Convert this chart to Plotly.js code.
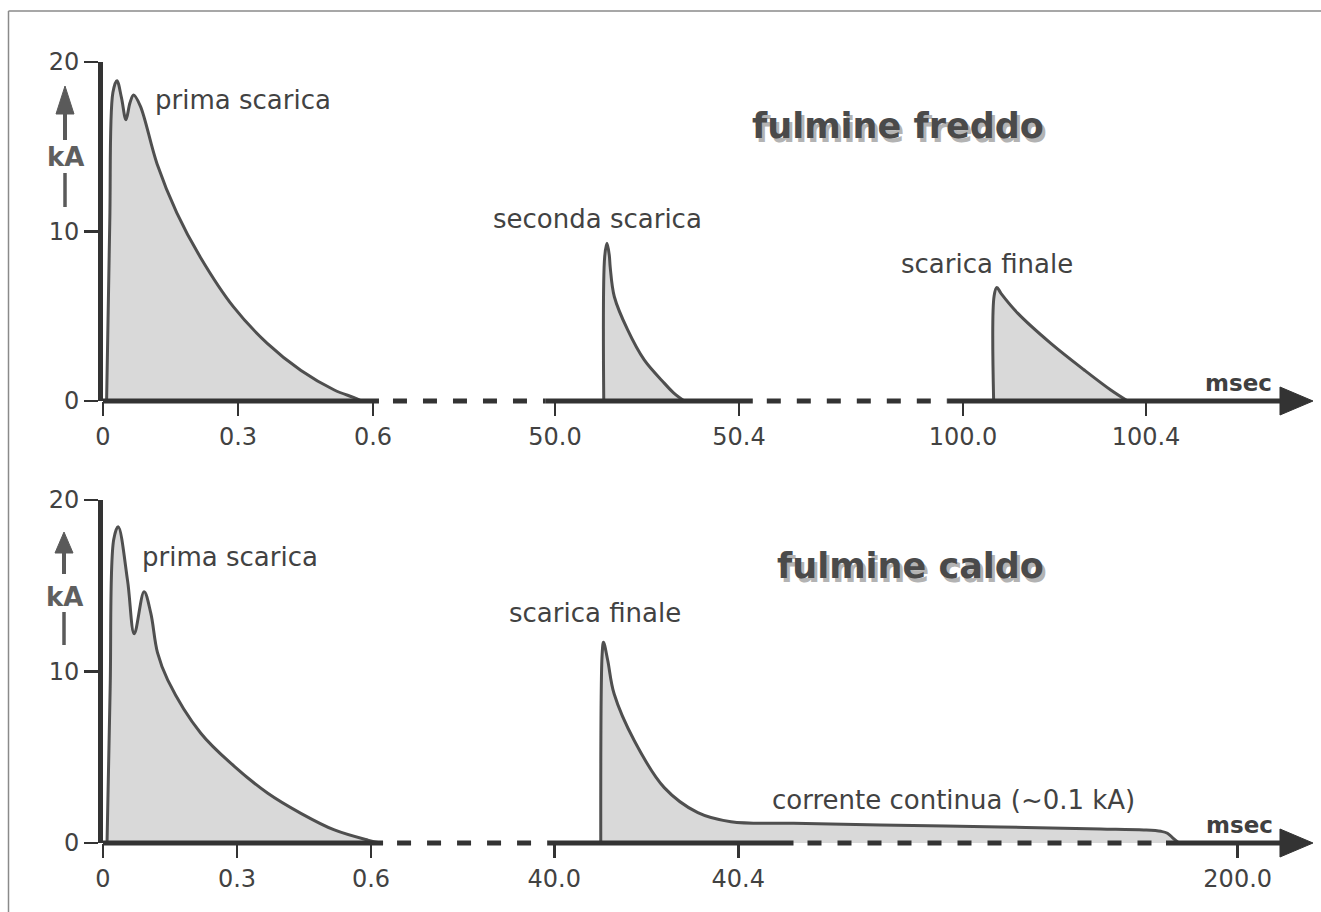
<!DOCTYPE html>
<html><head><meta charset="utf-8">
<script src="https://cdn.plot.ly/plotly-3.0.1.min.js"></script>
<style>html,body{margin:0;padding:0;background:#fff}#chart{width:1321px;height:912px}</style>
</head><body><div id="chart"></div>
<script>
// ---------------- DATA (time in ms, current in kA) ----------------
// fulmine freddo
const freddoPrimaT = [0.008, 0.015, 0.022, 0.031, 0.041, 0.051, 0.060, 0.068, 0.083, 0.120, 0.164, 0.216, 0.290, 0.365, 0.440, 0.514, 0.558, 0.575];
const freddoPrimaI = [0, 10.5, 18.2, 18.9, 17.9, 16.6, 17.6, 18.05, 17.4, 14.0, 11.1, 8.5, 5.55, 3.4, 1.8, 0.65, 0.2, 0];
const freddoSecondaT = [50.106, 50.108, 50.113, 50.118, 50.120, 50.129, 50.158, 50.194, 50.238, 50.259, 50.281];
const freddoSecondaI = [0, 8.5, 9.3, 8.6, 7.9, 6.15, 4.19, 2.42, 1.04, 0.45, 0];
const freddoFinaleT = [100.067, 100.068, 100.074, 100.083, 100.120, 100.192, 100.265, 100.323, 100.360];
const freddoFinaleI = [0, 6.2, 6.7, 6.35, 5.17, 3.4, 1.83, 0.65, 0];
// fulmine caldo
const caldoPrimaT = [0.009, 0.016, 0.024, 0.034, 0.055, 0.070, 0.092, 0.107, 0.122, 0.145, 0.219, 0.294, 0.369, 0.443, 0.518, 0.593, 0.622];
const caldoPrimaI = [0, 9.0, 17.7, 18.44, 15.3, 12.2, 14.65, 13.4, 11.1, 9.5, 6.4, 4.47, 2.9, 1.73, 0.76, 0.17, 0];
const caldoFinaleT = [40.101, 40.104, 40.107, 40.116, 40.130, 40.174, 40.239, 40.312, 40.384, 40.52, 77.7, 129.1, 171.9, 190.4, 197.7, 199.853, 199.864, 199.877];
const caldoFinaleI = [0, 11.0, 11.7, 10.67, 8.7, 5.96, 3.23, 1.77, 1.24, 1.15, 1.05, 0.93, 0.82, 0.76, 0.68, 0.57, 0.3, 0];

// tick labels
const freddoTicks = [0, 0.3, 0.6, 50.0, 50.4, 100.0, 100.4];
const freddoTickLabels = ['0', '0.3', '0.6', '50.0', '50.4', '100.0', '100.4'];
const caldoTicks = [0, 0.3, 0.6, 40.0, 40.4, 200.0];
const caldoTickLabels = ['0', '0.3', '0.6', '40.0', '40.4', '200.0'];
const yTicks = [0, 10, 20];
const yTickLabels = ['0', '10', '20'];

// broken time axis: visible pieces (ms) and their place on the drawn axis
const freddoScale = [
  {t: [0, 0.6], u: [0, 270]},
  {t: [50.0, 50.4], u: [452, 636]},
  {t: [100.0, 100.4], u: [860, 1043]}
];
const caldoScale = [
  {t: [0, 0.6], u: [0, 268]},
  {t: [40.0, 40.4], u: [451.3, 635.3]},
  {t: [40.52, 199.85], u: [690.5, 1063]},
  {t: [199.85, 200.0], u: [1063, 1134.7]}
];
// solid parts of the time axis (ms); gaps between them are dashed
const freddoSolid = [[0, 0.6133], [49.98, 50.43], [99.967, 100.706]];
const caldoSolid = [[0, 0.627], [39.986, 40.52], [199.85, 200.101]];

// ---------------- helpers ----------------
const W = 1321, H = 912;
function makeMap(scale) {
  return function (t) {
    let seg = scale.find(s => t >= s.t[0] && t <= s.t[1]);
    if (!seg) {
      let bd = Infinity;
      for (const s of scale) {
        const d = t < s.t[0] ? s.t[0] - t : t - s.t[1];
        if (d < bd) { bd = d; seg = s; }
      }
    }
    return seg.u[0] + (t - seg.t[0]) * (seg.u[1] - seg.u[0]) / (seg.t[1] - seg.t[0]);
  };
}
const mapF = makeMap(freddoScale);
const mapC = makeMap(caldoScale);
const px = x => x / W;
const py = y => 1 - y / H;

const topBottom = 401, topTop = 62, botBottom = 843, botTop = 500;
const xDomain = [103 / W, 1];
const uRange = [0, W - 103];

const DARK = '#333333';
const LINE = '#4f4f4f';
const FILL = '#d9d9d9';
const TXT = '#424242';
const FONT = 'DejaVu Sans, Verdana, sans-serif';

function discharge(t, i, map, xa, ya) {
  return {
    x: t.map(map), y: i, xaxis: xa, yaxis: ya,
    type: 'scatter', mode: 'lines', fill: 'tozeroy', fillcolor: FILL,
    line: {color: LINE, width: 3, shape: 'spline', smoothing: 1},
    hoverinfo: 'skip'
  };
}

const traces = [
  discharge(freddoPrimaT, freddoPrimaI, mapF, 'x', 'y'),
  discharge(freddoSecondaT, freddoSecondaI, mapF, 'x', 'y'),
  discharge(freddoFinaleT, freddoFinaleI, mapF, 'x', 'y'),
  discharge(caldoPrimaT, caldoPrimaI, mapC, 'x2', 'y2'),
  discharge(caldoFinaleT, caldoFinaleI, mapC, 'x2', 'y2')
];

const shapes = [];
// frame
shapes.push({type: 'line', xref: 'paper', yref: 'paper', x0: px(8.5), x1: px(8.5), y0: py(11), y1: 0, line: {color: '#8a8a8a', width: 1.5}});
shapes.push({type: 'line', xref: 'paper', yref: 'paper', x0: px(8.5), x1: 1, y0: py(11), y1: py(11), line: {color: '#8a8a8a', width: 1.5}});

function timeAxis(solid, map, xref, yPix) {
  const y = py(yPix);
  solid.forEach((s, k) => {
    shapes.push({type: 'line', xref: xref, yref: 'paper', x0: map(s[0]), x1: map(s[1]), y0: y, y1: y,
      line: {color: DARK, width: 5}, layer: 'above'});
    if (k < solid.length - 1) {
      shapes.push({type: 'line', xref: xref, yref: 'paper', x0: map(s[1]) + 14, x1: map(solid[k + 1][0]), y0: y, y1: y,
        line: {color: DARK, width: 5, dash: '14px,16px'}, layer: 'above'});
    }
  });
  const end = map(solid[solid.length - 1][1]);
  const hh = 14 / H;
  shapes.push({type: 'path', xref: xref, yref: 'paper',
    path: `M ${end - 6},${y + hh} L ${end + 27},${y} L ${end - 6},${y - hh} Z`,
    fillcolor: DARK, line: {color: DARK, width: 1}, layer: 'above'});
}
timeAxis(freddoSolid, mapF, 'x', topBottom);
timeAxis(caldoSolid, mapC, 'x2', botBottom);

// kA arrows
function kaArrow(tip, base, shaftEnd, lineTop, lineBot, cx) {
  shapes.push({type: 'path', xref: 'paper', yref: 'paper',
    path: `M ${px(cx)},${py(tip)} L ${px(cx + 9)},${py(base)} L ${px(cx - 9)},${py(base)} Z`,
    fillcolor: '#5a5a5a', line: {color: '#5a5a5a', width: 1}});
  shapes.push({type: 'line', xref: 'paper', yref: 'paper', x0: px(cx), x1: px(cx), y0: py(base - 2), y1: py(shaftEnd),
    line: {color: '#5a5a5a', width: 4}});
  shapes.push({type: 'line', xref: 'paper', yref: 'paper', x0: px(cx), x1: px(cx), y0: py(lineTop), y1: py(lineBot),
    line: {color: '#5a5a5a', width: 3.5}});
}
kaArrow(86, 114, 140, 173, 207, 65);
kaArrow(532, 553, 574, 612, 645, 64);

const annotations = [];
function label(text, x, y, size, fontExtra) {
  annotations.push({xref: 'paper', yref: 'paper', x: px(x), y: py(y), text: text, showarrow: false,
    xanchor: 'center', yanchor: 'middle', font: Object.assign({family: FONT, size: size, color: TXT}, fontExtra || {})});
}
function title(text, x, y) {
  label(text, x, y, 35, {weight: 'bold', color: '#4a4a4a', shadow: '3px 4px 0px #b3b3b3'});
}
title('fulmine freddo', 898, 126);
title('fulmine caldo', 910, 566);
label('prima scarica', 243, 100, 26);
label('seconda scarica', 597, 219, 26);
label('scarica finale', 987, 264, 26);
label('prima scarica', 230, 557, 26);
label('scarica finale', 595, 613, 26);
label('corrente continua (~0.1 kA)', 953, 800, 26);
label('msec', 1238, 383, 23, {weight: 'bold', color: '#404040'});
label('msec', 1239, 825, 23, {weight: 'bold', color: '#404040'});
label('kA', 65, 157, 26, {weight: 'bold', color: '#5f5f5f'});
label('kA', 64, 597, 26, {weight: 'bold', color: '#5f5f5f'});

function xAxis(ticks, labels, map, anchor) {
  return {domain: xDomain, range: uRange, anchor: anchor, showline: false, showgrid: false, zeroline: false,
    tickmode: 'array', tickvals: ticks.map(map), ticktext: labels,
    ticks: 'outside', ticklen: 14, tickwidth: 2.5, tickcolor: DARK,
    tickfont: {family: FONT, size: 24, color: TXT}, fixedrange: true};
}
function yAxis(bottom, top, anchor) {
  return {domain: [py(bottom), py(top)], range: [0, 20], anchor: anchor, showline: true, linewidth: 5, linecolor: DARK,
    showgrid: false, zeroline: false, tickmode: 'array', tickvals: yTicks, ticktext: yTickLabels,
    ticks: 'outside', ticklen: 14, tickwidth: 2.5, tickcolor: DARK,
    tickfont: {family: FONT, size: 24, color: TXT}, fixedrange: true};
}

const layout = {
  width: W, height: H, margin: {l: 0, r: 0, t: 0, b: 0, pad: 0},
  paper_bgcolor: '#ffffff', plot_bgcolor: 'rgba(0,0,0,0)', showlegend: false,
  xaxis: xAxis(freddoTicks, freddoTickLabels, mapF, 'y'),
  yaxis: yAxis(topBottom, topTop, 'x'),
  xaxis2: xAxis(caldoTicks, caldoTickLabels, mapC, 'y2'),
  yaxis2: yAxis(botBottom, botTop, 'x2'),
  shapes: shapes, annotations: annotations
};
Plotly.newPlot('chart', traces, layout, {staticPlot: true, displayModeBar: false});
</script></body></html>
